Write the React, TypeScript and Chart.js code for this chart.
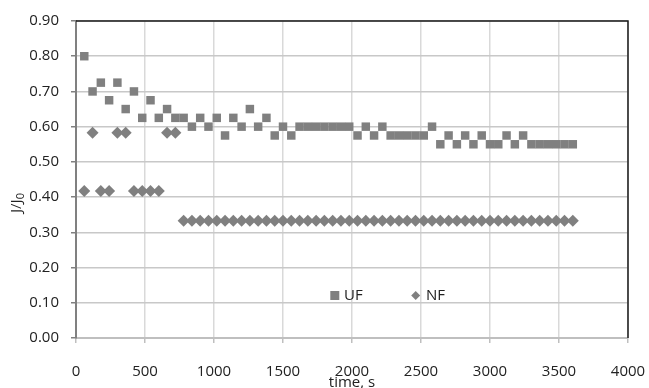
import React, { useEffect, useRef } from "react";
import { Chart, registerables } from "chart.js";

Chart.register(...registerables);

const times = [
  60, 120, 180, 240, 300, 360, 420, 480, 540, 600,
  660, 720, 780, 840, 900, 960, 1020, 1080, 1140, 1200,
  1260, 1320, 1380, 1440, 1500, 1560, 1620, 1680, 1740, 1800,
  1860, 1920, 1980, 2040, 2100, 2160, 2220, 2280, 2340, 2400,
  2460, 2520, 2580, 2640, 2700, 2760, 2820, 2880, 2940, 3000,
  3060, 3120, 3180, 3240, 3300, 3360, 3420, 3480, 3540, 3600,
];

const ufValues = [
  0.8, 0.7, 0.725, 0.675, 0.725, 0.65, 0.7, 0.625, 0.675, 0.625,
  0.65, 0.625, 0.625, 0.6, 0.625, 0.6, 0.625, 0.575, 0.625, 0.6,
  0.65, 0.6, 0.625, 0.575, 0.6, 0.575, 0.6, 0.6, 0.6, 0.6,
  0.6, 0.6, 0.6, 0.575, 0.6, 0.575, 0.6, 0.575, 0.575, 0.575,
  0.575, 0.575, 0.6, 0.55, 0.575, 0.55, 0.575, 0.55, 0.575, 0.55,
  0.55, 0.575, 0.55, 0.575, 0.55, 0.55, 0.55, 0.55, 0.55, 0.55,
];

const nfValues = [
  0.417, 0.583, 0.417, 0.417, 0.583, 0.583, 0.417, 0.417, 0.417, 0.417,
  0.583, 0.583, 0.333, 0.333, 0.333, 0.333, 0.333, 0.333, 0.333, 0.333,
  0.333, 0.333, 0.333, 0.333, 0.333, 0.333, 0.333, 0.333, 0.333, 0.333,
  0.333, 0.333, 0.333, 0.333, 0.333, 0.333, 0.333, 0.333, 0.333, 0.333,
  0.333, 0.333, 0.333, 0.333, 0.333, 0.333, 0.333, 0.333, 0.333, 0.333,
  0.333, 0.333, 0.333, 0.333, 0.333, 0.333, 0.333, 0.333, 0.333, 0.333,
];

const seriesNames = ["UF", "NF"];
const xTitle = "time, s";
const yTitleMain = "J/J";
const yTitleSub = "0";

const FONT = "'Open Sans', 'Liberation Sans', sans-serif";
const GRAY = "#808080";

const overlayPlugin = {
  id: "overlay",
  afterDraw(chart: any) {
    const { ctx, chartArea } = chart;
    const { left, right, top, bottom } = chartArea;
    ctx.save();
    // plot border top & right
    ctx.strokeStyle = "#1a1a1a";
    ctx.lineWidth = 1.5;
    ctx.beginPath();
    ctx.moveTo(left, top);
    ctx.lineTo(right, top);
    ctx.lineTo(right, bottom);
    ctx.stroke();

    // legend
    ctx.fillStyle = GRAY;
    ctx.fillRect(330.3, 291, 9, 9);
    ctx.beginPath();
    ctx.moveTo(415.7 - 4.5, 295.5);
    ctx.lineTo(415.7, 291);
    ctx.lineTo(415.7 + 4.5, 295.5);
    ctx.lineTo(415.7, 300);
    ctx.closePath();
    ctx.fill();
    ctx.fillStyle = "#222";
    ctx.font = `15px ${FONT}`;
    ctx.textBaseline = "middle";
    ctx.textAlign = "left";
    ctx.fillText(seriesNames[0], 344, 296);
    ctx.fillText(seriesNames[1], 426, 296);

    // x title
    ctx.textAlign = "center";
    ctx.textBaseline = "alphabetic";
    ctx.fillText(xTitle, (left + right) / 2, 387);

    // y title with subscript
    ctx.translate(16, 203);
    ctx.rotate(-Math.PI / 2);
    ctx.font = `15px ${FONT}`;
    const w1 = ctx.measureText(yTitleMain).width;
    ctx.font = `11px ${FONT}`;
    const w2 = ctx.measureText(yTitleSub).width;
    const start = -(w1 + w2) / 2;
    ctx.textAlign = "left";
    ctx.textBaseline = "alphabetic";
    ctx.font = `15px ${FONT}`;
    ctx.fillText(yTitleMain, start, 5);
    ctx.font = `11px ${FONT}`;
    ctx.fillText(yTitleSub, start + w1, 8);
    ctx.restore();
  },
};

export default function App() {
  const canvasRef = useRef<HTMLCanvasElement | null>(null);

  useEffect(() => {
    if (!canvasRef.current) return;
    const chart = new Chart(canvasRef.current, {
      type: "scatter",
      data: {
        datasets: [
          {
            label: seriesNames[0],
            data: times.map((t, i) => ({ x: t, y: ufValues[i] })),
            pointStyle: "rect",
            pointRadius: 6,
            pointHoverRadius: 6,
            backgroundColor: GRAY,
            borderColor: GRAY,
            borderWidth: 0,
          },
          {
            label: seriesNames[1],
            data: times.map((t, i) => ({ x: t, y: nfValues[i] })),
            pointStyle: "rectRot",
            pointRadius: 6,
            pointHoverRadius: 6,
            backgroundColor: GRAY,
            borderColor: GRAY,
            borderWidth: 0,
          },
        ],
      },
      options: {
        responsive: true,
        maintainAspectRatio: false,
        animation: false,
        layout: { padding: { left: 0, top: 20, right: 21, bottom: 0 } },
        plugins: {
          legend: { display: false },
          tooltip: { enabled: false },
        },
        scales: {
          x: {
            type: "linear",
            min: 0,
            max: 4000,
            ticks: {
              stepSize: 500,
              color: "#222",
              font: { family: FONT, size: 15 },
              padding: 20,
              callback: (v: any) => String(v),
            },
            grid: {
              color: "#d9d9d9",
              lineWidth: 1.5,
              tickColor: "#bfbfbf",
              tickLength: 5,
            },
            border: { color: "#bfbfbf", width: 2 },
            afterFit(scale: any) {
              scale.height = 50;
              scale.paddingLeft = 0;
              scale.paddingRight = 0;
            },
          },
          y: {
            type: "linear",
            min: 0,
            max: 0.9,
            ticks: {
              stepSize: 0.1,
              color: "#222",
              font: { family: FONT, size: 15 },
              padding: 12,
              callback: (v: any) => Number(v).toFixed(2),
            },
            grid: {
              color: "#c8c8c8",
              lineWidth: 1.5,
              tickColor: GRAY,
              tickLength: 5,
            },
            border: { color: GRAY, width: 2 },
            afterFit(scale: any) {
              scale.width = 76;
            },
          },
        },
      },
      plugins: [overlayPlugin],
    });
    return () => chart.destroy();
  }, []);

  return (
    <div style={{ position: "fixed", left: 0, top: 0, width: 649, height: 388, background: "#fff" }}>
      <canvas ref={canvasRef} style={{ display: "block" }} />
    </div>
  );
}
